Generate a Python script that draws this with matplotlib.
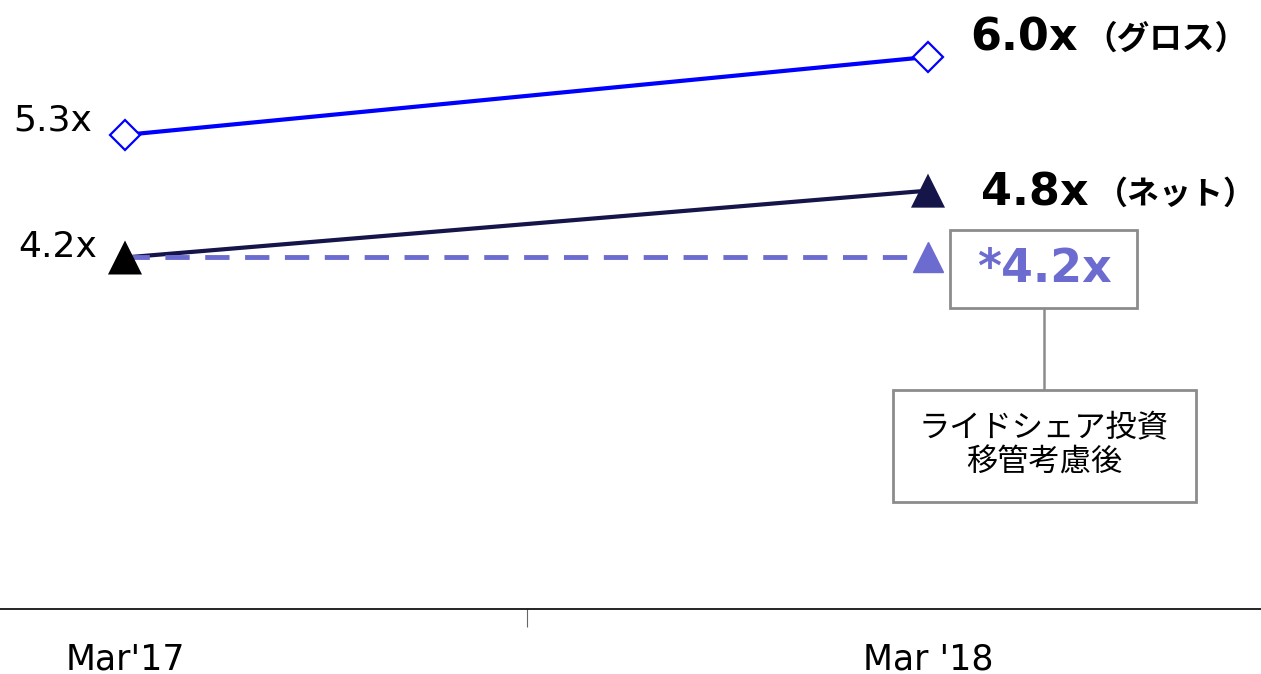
import matplotlib
matplotlib.use("Agg")
import matplotlib.pyplot as plt
from matplotlib.patches import Rectangle
from matplotlib.lines import Line2D

categories = ["Mar'17", "Mar '18"]
gross = [5.3, 6.0]
net = [4.2, 4.8]
adjusted = [4.2, 4.2]
gross_labels = ["5.3x", "6.0x"]
net_labels = ["4.2x", "4.8x"]
adjusted_label = "*4.2x"
gross_suffix = "（グロス）"
net_suffix = "（ネット）"
note_text = "ライドシェア投資\n移管考慮後"

BLUE = "#0000ff"
NAVY = "#15154a"
LAV = "#6b6bd0"
GRAY = "#8c8c8c"

plt.rcParams['font.family'] = ['DejaVu Sans', 'Noto Sans CJK JP']

W, H = 1261, 674
fig = plt.figure(figsize=(W / 100, H / 100), dpi=100)
ax = fig.add_axes([0, (H - 609) / H, 1, 609 / H])
x = list(range(len(categories)))

ax.set_xlim(-125 / 803, (W - 125) / 803)
ax.set_ylim(1.045, 6.511)

ax.plot(x, gross, color=BLUE, lw=3, marker='D', ms=15.5, mfc='white',
        mec=BLUE, mew=1.6, zorder=3)
ax.plot(x, net, color=NAVY, lw=3, zorder=2)
ax.scatter(x, net, marker='^', s=24.5 ** 2, c=['black', NAVY], zorder=5, linewidths=0)
ax.plot(x, adjusted, color=LAV, lw=3.5, ls=(0, (5, 3.2)), marker='^', ms=21,
        markevery=[1], mec=LAV, zorder=4)

# left labels
ax.annotate(gross_labels[0], (x[0], gross[0]), xytext=(-33, 4), textcoords='offset pixels',
            ha='right', va='baseline', fontsize=26)
ax.annotate(net_labels[0], (x[0], net[0]), xytext=(-28, 0), textcoords='offset pixels',
            ha='right', va='baseline', fontsize=26)

# right labels
t1 = ax.annotate(gross_labels[1], (x[1], gross[1]), xytext=(42, 6), textcoords='offset pixels',
                 ha='left', va='baseline', fontsize=32, fontweight='bold')
ax.annotate(gross_suffix, xy=(1, 0), xycoords=t1, xytext=(7, 4), textcoords='offset pixels',
            ha='left', va='bottom', fontsize=23.5, fontweight='bold', family='Noto Sans CJK JP')
t2 = ax.annotate(net_labels[1], (x[1], net[1]), xytext=(53, -15), textcoords='offset pixels',
                 ha='left', va='baseline', fontsize=32, fontweight='bold')
ax.annotate(net_suffix, xy=(1, 0), xycoords=t2, xytext=(7, 4), textcoords='offset pixels',
            ha='left', va='bottom', fontsize=23, fontweight='bold', family='Noto Sans CJK JP')

# adjusted value box
ax.add_patch(Rectangle((950 / W, 1 - 308 / H), (1137 - 950) / W, (308 - 230) / H,
                       transform=fig.transFigure, fc='white', ec=GRAY, lw=2,
                       zorder=5, clip_on=False))
ax.annotate(adjusted_label, (x[1], adjusted[1]), xytext=(116, -25), textcoords='offset pixels',
            ha='center', va='baseline', fontsize=33, fontweight='bold', color=LAV, zorder=7)

# connector and note box (figure pixel positions)
ax.add_line(Line2D([1044 / W, 1044 / W], [1 - 308 / H, 1 - 390 / H],
                   transform=fig.transFigure, color=GRAY, lw=1.8, clip_on=False))
ax.add_patch(Rectangle((893 / W, 1 - 502 / H), (1196 - 893) / W, (502 - 390) / H,
                       transform=fig.transFigure, fc='white', ec=GRAY, lw=2,
                       zorder=5, clip_on=False))
ax.text(1044 / W, 1 - 445 / H, note_text, transform=fig.transFigure, ha='center',
        va='center', fontsize=22.5, family='Noto Sans CJK JP', linespacing=1.1, zorder=7)

# axes styling
for s in ['top', 'right', 'left']:
    ax.spines[s].set_visible(False)
ax.spines['bottom'].set_color('black')
ax.spines['bottom'].set_linewidth(1.2)
ax.set_yticks([])
ax.set_xticks(x)
ax.set_xticklabels(categories, fontsize=25)
ax.tick_params(axis='x', length=0, pad=24)
ax.set_xticks([0.5], minor=True)
ax.tick_params(axis='x', which='minor', length=13, width=0.8, color='#666666')

fig.savefig("out.png", dpi=100)
